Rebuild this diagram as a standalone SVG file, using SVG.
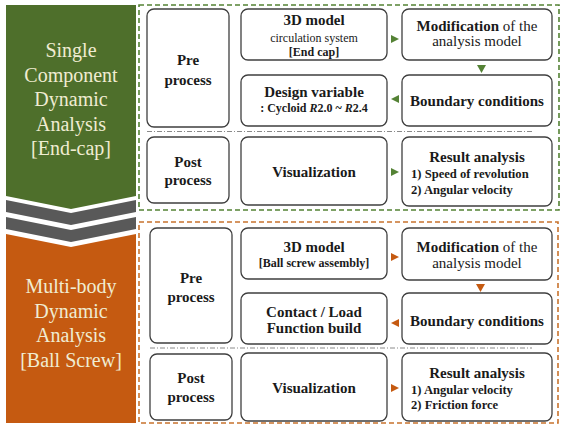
<svg xmlns="http://www.w3.org/2000/svg" width="566" height="431" viewBox="0 0 566 431">
<style>
.bx{fill:#fff;stroke:#3f3f3f;stroke-width:1.3}
.t{font-family:'Liberation Serif','DejaVu Serif',serif;text-anchor:middle;fill:#1a1a1a}
.l{font-family:'Liberation Serif','DejaVu Serif',serif;text-anchor:start;fill:#1a1a1a}
.b{font-weight:bold}
.p{font-family:'Liberation Serif','DejaVu Serif',serif;font-size:20px;text-anchor:middle;fill:#f0ecd2}
.s15{font-size:15px}
.s12{font-size:12px}
.s13{font-size:12.6px}
.sep{stroke:#8a8a8a;stroke-width:1;stroke-dasharray:5 2 1 2;fill:none}
.ga{fill:#548235}
.oa{fill:#C55A11}
</style>
<rect width="566" height="431" fill="#fff"/>
<g id="panels">
<polygon points="6,5 136,5 136,196 71,209 6,196" fill="#4e6f2b"/>
<polygon points="6,200 71,213 136,200 136,212 71,225 6,212" fill="#595959"/>
<polygon points="6,217 71,230 136,217 136,229 71,242 6,229" fill="#595959"/>
<polygon points="6,234 71,247 136,234 136,423 6,423" fill="#c55a11"/>
<text class="p" x="71" y="57">Single</text>
<text class="p" x="71" y="81.5">Component</text>
<text class="p" x="71" y="106">Dynamic</text>
<text class="p" x="71" y="130.5">Analysis</text>
<text class="p" x="71" y="155">[End-cap]</text>
<text class="p" x="71" y="293">Multi-body</text>
<text class="p" x="71" y="317.5">Dynamic</text>
<text class="p" x="71" y="342">Analysis</text>
<text class="p" x="71" y="366.5">[Ball Screw]</text>
</g>
<g id="frames">
<rect x="139" y="5" width="420" height="205" fill="none" stroke="#548235" stroke-width="1.6" stroke-dasharray="5 3"/>
<rect x="139" y="222" width="419" height="201" fill="none" stroke="#c8732e" stroke-width="1.6" stroke-dasharray="5 3"/>
<line class="sep" x1="147" y1="131.5" x2="532" y2="131.5"/>
<line class="sep" x1="150" y1="348" x2="532" y2="348"/>
</g>
<g id="top-pre"><rect class="bx" x="147" y="9" width="82" height="118" rx="7"/>
<text class="t b s15" x="188" y="65">Pre</text><text class="t b s15" x="188" y="85">process</text></g>
<g id="top-post"><rect class="bx" x="147" y="137" width="82" height="66" rx="7"/>
<text class="t b s15" x="188" y="167">Post</text><text class="t b s15" x="188" y="185">process</text></g>
<g id="top-3d"><rect class="bx" x="241" y="9" width="146" height="51" rx="7"/>
<text class="t b s15" x="314" y="25">3D model</text>
<text class="t s12" x="314" y="42">circulation system</text>
<text class="t b s12" x="314" y="56">[End cap]</text></g>
<g id="top-mod"><rect class="bx" x="402" y="9" width="150" height="51" rx="7"/>
<text class="t s15" x="477" y="31"><tspan font-weight="bold">Modification</tspan> of the</text>
<text class="t s15" x="477" y="46">analysis model</text></g>
<g id="top-design"><rect class="bx" x="241" y="75" width="146" height="51" rx="7"/>
<text class="t b s15" x="314" y="97">Design variable</text>
<text class="t b s12" x="314" y="112">: Cycloid <tspan font-style="italic">R</tspan>2.0 ~ <tspan font-style="italic">R</tspan>2.4</text></g>
<g id="top-boundary"><rect class="bx" x="402" y="75" width="150" height="51" rx="7"/>
<text class="t b s15" x="477" y="106">Boundary conditions</text></g>
<g id="top-vis"><rect class="bx" x="241" y="137" width="146" height="68" rx="7"/>
<text class="t b s15" x="314" y="177">Visualization</text></g>
<g id="top-result"><rect class="bx" x="402" y="137" width="150" height="69" rx="7"/>
<text class="t b s15" x="477" y="162">Result analysis</text>
<text class="l b s13" x="411" y="178">1) Speed of revolution</text>
<text class="l b s13" x="411" y="194">2) Angular velocity</text></g>
<g id="bot-pre"><rect class="bx" x="150" y="228" width="82" height="115" rx="7"/>
<text class="t b s15" x="191" y="283">Pre</text><text class="t b s15" x="191" y="302">process</text></g>
<g id="bot-post"><rect class="bx" x="150" y="354" width="82" height="66" rx="7"/>
<text class="t b s15" x="191" y="383">Post</text><text class="t b s15" x="191" y="402">process</text></g>
<g id="bot-3d"><rect class="bx" x="241" y="228" width="146" height="51" rx="7"/>
<text class="t b s15" x="314" y="252">3D model</text>
<text class="t b s12" x="314" y="267">[Ball screw assembly]</text></g>
<g id="bot-mod"><rect class="bx" x="402" y="228" width="150" height="52" rx="7"/>
<text class="t s15" x="477" y="252"><tspan font-weight="bold">Modification</tspan> of the</text>
<text class="t s15" x="477" y="268">analysis model</text></g>
<g id="bot-contact"><rect class="bx" x="241" y="293" width="146" height="51" rx="7"/>
<text class="t b s15" x="314" y="317">Contact / Load</text>
<text class="t b s15" x="314" y="333">Function build</text></g>
<g id="bot-boundary"><rect class="bx" x="402" y="293" width="150" height="51" rx="7"/>
<text class="t b s15" x="477" y="326">Boundary conditions</text></g>
<g id="bot-vis"><rect class="bx" x="241" y="353" width="146" height="68" rx="7"/>
<text class="t b s15" x="314" y="393">Visualization</text></g>
<g id="bot-result"><rect class="bx" x="402" y="353" width="150" height="68" rx="7"/>
<text class="t b s15" x="477" y="378">Result analysis</text>
<text class="l b s13" x="411" y="394">1) Angular velocity</text>
<text class="l b s13" x="411" y="409">2) Friction force</text></g>
<g id="connectors">
<polygon class="ga" points="391,35 399,39 391,43"/>
<polygon class="ga" points="477,65 486,65 481.5,73"/>
<polygon class="ga" points="399,95 391,99 399,103"/>
<polygon class="ga" points="391,168 399,172 391,176"/>
<polygon class="oa" points="391,253 399,257 391,261"/>
<polygon class="oa" points="476,284 485,284 480.5,292"/>
<polygon class="oa" points="399,319 391,323 399,327"/>
<polygon class="oa" points="391,384 399,388 391,392"/>
</g>
</svg>
